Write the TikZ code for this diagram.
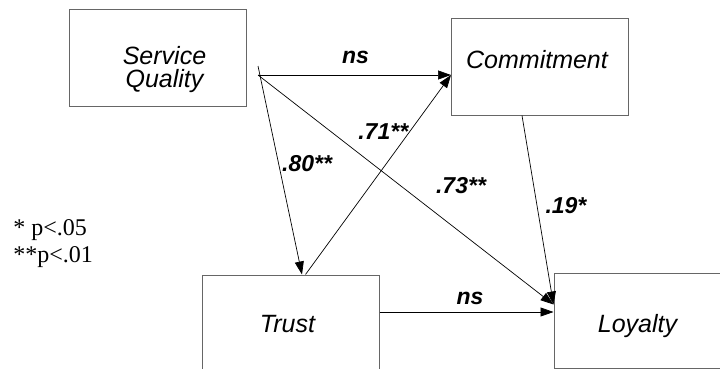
\documentclass[tikz,border=0pt]{standalone}
\usepackage{fontspec}
\setmainfont{Liberation Serif}
\newfontfamily\arial{Liberation Sans}
\usetikzlibrary{arrows.meta}
\tikzset{
  box/.style={draw=black!60,line width=1pt,minimum width=177pt},
  txt/.style={inner sep=0pt,align=center,font=\arial\itshape\fontsize{25}{23}\selectfont},
  lbl/.style={inner sep=0pt,font=\arial\bfseries\itshape\fontsize{23}{23}\selectfont},
}
\def\arr{\draw[-{Triangle[length=13pt,width=9pt]}]}

\begin{document}
\begin{tikzpicture}[x=1pt,y=-1pt,line width=0.7pt]
                \useasboundingbox (0,0) rectangle (720,369);
                % boxes
                \node[box,minimum height=96pt]  (sq)     at (157.5,58)    {};
                \node[box,minimum height=96pt]  (commit) at (540,67)      {};
                \node[box,minimum height=100pt] (trust)  at (290.5,325)   {};
                \node[box,minimum height=95pt]  (loyal)  at (642.5,320.5) {};
                \node[txt] (sqtxt)     at (164.5,69.4)  {Service\\Quality};
                \node[txt] (committxt) at (537,59.2)    {Commitment};
                \node[txt] (trusttxt)  at (287.5,324)   {Trust};
                \node[txt] (loyaltxt)  at (637.5,326.5) {Loyalty};
                % ends of the paths
                \coordinate (sqout)  at (258,75);
                \coordinate (commin) at ([yshift=-8pt]commit.west);
                \coordinate (loyin)  at ([yshift=16pt]loyal.west);
                % paths
                \arr (sqout) -- (commin) node[lbl,pos=0.505,yshift=18pt] {ns};
                \arr ([yshift=9pt]sqout) -- ([xshift=11.5pt]trust.north) node[lbl,pos=0.468,xshift=28.5pt] {.80**};
                \arr ([xshift=15pt]trust.north) -- (commin) node[lbl,pos=0.716,xshift=-26.4pt] {.71**};
                \arr (sqout) -- (loyin) node[lbl,pos=0.484,xshift=60pt] {.73**};
                \arr ([xshift=-18pt]commit.south) -- (loyin) node[lbl,pos=0.475,xshift=29pt] {.19*};
                \arr ([yshift=13pt]trust.east) -- ([yshift=13pt]trust.east -| loyal.west) node[lbl,pos=0.52,yshift=14pt] {ns};
                % legend
                \node[inner sep=0pt,align=left,anchor=west,font=\fontsize{24}{27}\selectfont] (legend) at (13,244) {* p<.05\\**p<.01};
\end{tikzpicture}
\end{document}
